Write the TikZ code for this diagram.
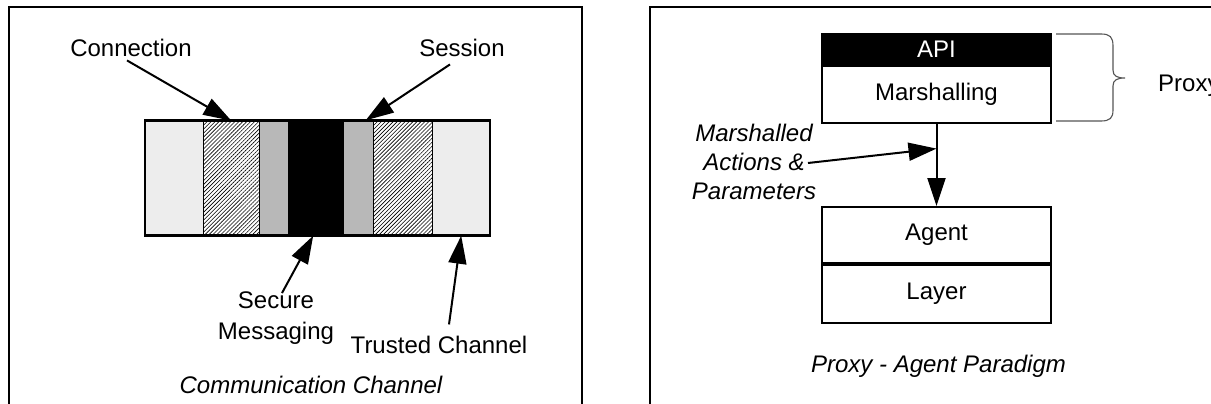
\documentclass[tikz,border=0pt]{standalone}
\usepackage{fontspec}
\setmainfont{Liberation Sans}
\usetikzlibrary{arrows.meta,patterns.meta,calc}
\definecolor{stiplight}{HTML}{EDEDED}
\definecolor{stipmid}{HTML}{B8B8B8}
\definecolor{bracegray}{HTML}{555555}
\begin{document}
\begin{tikzpicture}[x=1pt,y=-1pt,
  lbl/.style={font=\fontsize{24}{30}\selectfont, inner sep=0pt, align=center},
  framebox/.style={line width=2pt},
  seg/.style={draw, line width=1.4pt, minimum width=#1, minimum height=114pt,
              inner sep=0pt, anchor=west},
  hatch/.style={pattern={Lines[angle=45,distance=2.8pt,line width=0.6pt]}},
  ptr/.style={line width=2pt, -{Triangle[length=28pt,width=18pt]}},
  layerbox/.style={draw, line width=2pt, minimum width=229pt, inner sep=0pt,
                   font=\fontsize{24}{30}\selectfont}]
\useasboundingbox (0,0) rectangle (1211,404);
\clip (0,0) rectangle (1211,404);
\fill[white] (0,0) rectangle (1211,404);

% panel frames (open at the page edges)
\draw[framebox] (9,440) -- (9,7) -- (582,7) -- (582,440);
\draw[framebox] (650,440) -- (650,7) -- (1260,7);

% ---------------- communication channel ----------------
\node[seg=58pt, fill=stiplight] (s1) at (145,178) {};
\node[seg=56pt, hatch]          (s2) at (203,178) {};
\node[seg=29pt, fill=stipmid]   (s3) at (259,178) {};
\node[seg=55pt, fill=black]     (s4) at (288,178) {};
\node[seg=30pt, fill=stipmid]   (s5) at (343,178) {};
\node[seg=59pt, hatch]          (s6) at (373,178) {};
\node[seg=57pt, fill=stiplight] (s7) at (432,178) {};
\draw[line width=2pt] (s1.north west) rectangle (s7.south east);

\node[lbl, anchor=base] (conn) at (131,57) {Connection};
\node[lbl, anchor=base] (sess) at (462,57) {Session};
% base of a two-line node sits on its last line
\node[lbl, anchor=base, font=\fontsize{24}{31}\selectfont] (sec) at (276,339) {Secure\\Messaging};
\node[lbl, anchor=base] (trust) at (439,353) {Trusted Channel};
\node[lbl, anchor=base, font=\fontsize{24}{30}\selectfont\itshape] (cc) at (311,393) {Communication Channel};

\draw[ptr] ([shift={(-4,3)}]conn.south) -- (s2.north);
\draw[ptr] ([shift={(-12,7)}]sess.south) -- ([xshift=7pt]s5.north);
\draw[ptr] ([shift={(6,2)}]sec.north) -- ([xshift=-3pt]s4.south);
\draw[ptr] ([shift={(10,-11)}]trust.north) -- (s7.south);

% ---------------- proxy / agent ----------------
\node[layerbox, fill=black, text=white, minimum height=30pt] (api) at (936.5,49) {API};
\node[layerbox, minimum height=57pt, anchor=north] (marsh) at (api.south) {Marshalling};
\node[layerbox, minimum height=56pt] (agent) at (936.5,235) {Agent};
\node[layerbox, minimum height=58pt, anchor=north] (layer) at (agent.south) {Layer};

\draw[ptr] (marsh.south) -- (agent.north);
\coordinate (mid) at ($(marsh.south)!0.30!(agent.north)$);

\node[lbl, anchor=base, font=\fontsize{24}{29}\selectfont\itshape] (mact) at (754,199)
  {Marshalled\\Actions \&\\Parameters};
\coordinate (mfoot) at (808,163);
\draw[ptr] (mfoot) -- (mid);

% brace round the proxy layers
\draw[bracegray, line width=1.1pt]
  (1056,34) -- (1101,34) .. controls (1110,34) and (1113,37) .. (1113,46)
  -- (1113,70) .. controls (1113,76) and (1117,78) .. (1125,78)
  .. controls (1117,78) and (1113,80) .. (1113,86)
  -- (1113,110) .. controls (1113,118) and (1110,121) .. (1101,121) -- (1056,121);
\node[lbl, anchor=base west] (proxy) at (1158,92) {Proxy};

\node[lbl, anchor=base, font=\fontsize{24}{30}\selectfont\itshape] (pap) at (938.5,372)
  {Proxy - Agent Paradigm};
\end{tikzpicture}
\end{document}
